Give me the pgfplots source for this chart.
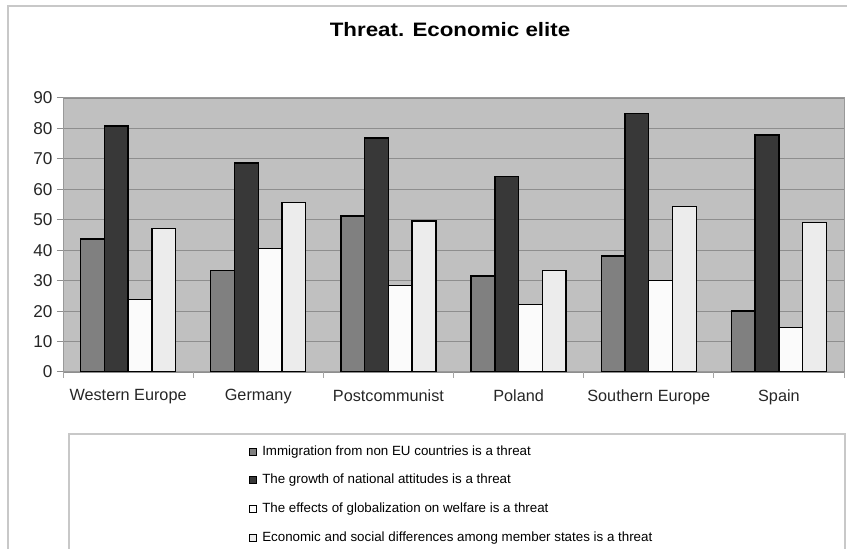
\documentclass[border=0pt]{standalone}
\usepackage{pgfplots}
\pgfplotsset{compat=1.18}
\usepackage{fontspec}
\setmainfont{Liberation Sans}
\newfontfamily\titlefont[FakeStretch=1.15]{Liberation Sans}
\newfontfamily\legfont{Liberation Sans}

\definecolor{plotbg}{HTML}{C0C0C0}
\definecolor{gridc}{HTML}{8E8E8E}
\definecolor{framec}{HTML}{C8C8C8}
\definecolor{barA}{HTML}{808080}
\definecolor{barB}{HTML}{383838}
\definecolor{barC}{HTML}{FBFBFB}
\definecolor{barD}{HTML}{ECECEC}

\pgfplotstableread{
x  imm   nat   glob  diff
0  43.7  80.8  23.8  47.1
1  33.3  68.7  40.6  55.7
2  51.3  76.9  28.5  49.6
3  31.5  64.3  22.1  33.3
4  38.1  84.9  30.1  54.3
5  20.0  77.9  14.7  49.2
}\threat

\begin{document}
\begin{tikzpicture}[x=1bp,y=1bp]
\useasboundingbox (0,0) rectangle (847,549);
% outer chart frame
\draw[framec, line width=1.3bp] (8,0) -- (8,543) -- (847,543);
% legend frame
\draw[framec, line width=1.3bp] (69,0) -- (69,115) -- (845,115) -- (845,0);
\begin{axis}[
  at={(63bp,177bp)}, anchor=south west,
  scale only axis, width=781bp, height=274bp,
  ybar=0pt, bar width=23.75bp,
  xmin=-0.5, xmax=5.5, ymin=0, ymax=90,
  enlargelimits=false,
  axis background/.style={fill=plotbg},
  axis line style={draw=gridc!90, line width=1bp},
  ytick={0,10,...,90},
  ymajorgrids, grid style={draw=gridc, line width=1.2bp},
  xtick={0,...,5},
  xticklabels={Western Europe,Germany,Postcommunist,Poland,Southern Europe,Spain},
  minor xtick={-0.5,0.5,...,5.5},
  xtick style={draw=none},
  minor x tick style={draw=gridc!80, line width=1bp},
  ytick style={draw=gridc, line width=1bp},
  tick pos=left,
  tick align=outside,
  major tick length=6bp, minor tick length=6bp,
  /pgf/number format/assume math mode=true,
  xticklabel style={font=\fontsize{16.3}{19}\selectfont, text=black!85, yshift=-8bp},
  yticklabel style={font=\fontsize{17.2}{20}\selectfont, text=black!85, xshift=-1bp},
  title={Threat. Economic elite},
  title style={at={(axis description cs:0.4955,1.2263)}, anchor=center,
    font=\titlefont\fontsize{19.5}{23}\selectfont\bfseries},
  every axis plot/.append style={draw=black, line width=1.4bp},
  legend image code/.code={\draw[#1, line width=1.1bp] (0bp,-3.5bp) rectangle (7bp,3.5bp);},
  legend style={at={(axis description cs:0.2343,-0.259)}, anchor=north west,
    draw=none, fill=none, row sep=15.7bp, column sep=5bp,
    nodes={inner sep=0pt, text height=10bp, text depth=3bp,
      font=\legfont\fontsize{13.4}{15}\selectfont}},
  legend cell align=left,
]
\addplot[fill=barA] table[x=x, y=imm] {\threat};
\addplot[fill=barB] table[x=x, y=nat] {\threat};
\addplot[fill=barC] table[x=x, y=glob] {\threat};
\addplot[fill=barD] table[x=x, y=diff] {\threat};
\legend{Immigration from non EU countries is a threat,
  The growth of national attitudes is a threat,
  The effects of globalization on welfare is a threat,
  Economic and social differences among member states is a threat}
\end{axis}
\end{tikzpicture}
\end{document}
